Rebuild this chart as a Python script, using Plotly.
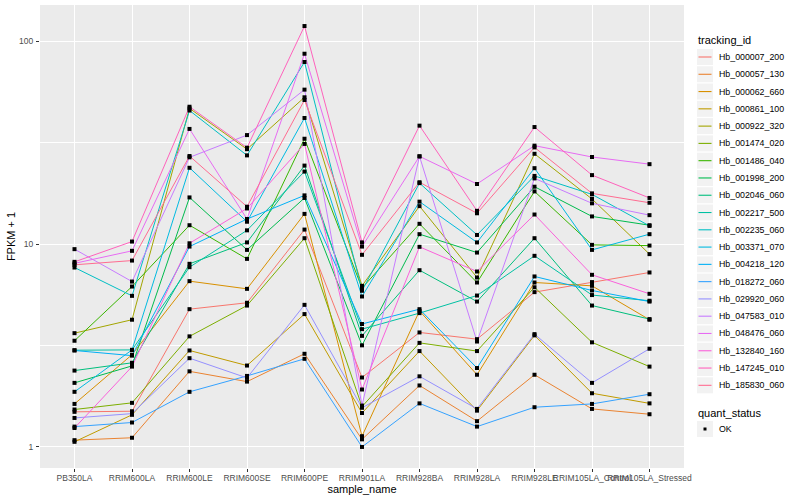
import plotly.graph_objects as go

samples = ["PB350LA", "RRIM600LA", "RRIM600LE", "RRIM600SE", "RRIM600PE", "RRIM901LA",
           "RRIM928BA", "RRIM928LA", "RRIM928LE", "RRIM105LA_Control", "RRIM105LA_Stressed"]

tracking_ids = ["Hb_000007_200", "Hb_000057_130", "Hb_000062_660", "Hb_000861_100", "Hb_000922_320",
                "Hb_001474_020", "Hb_001486_040", "Hb_001998_200", "Hb_002046_060", "Hb_002217_500",
                "Hb_002235_060", "Hb_003371_070", "Hb_004218_120", "Hb_018272_060", "Hb_029920_060",
                "Hb_047583_010", "Hb_048476_060", "Hb_132840_160", "Hb_147245_010", "Hb_185830_060"]

colors = ["#F8766D", "#EA8331", "#D89000", "#C09B00", "#A3A500", "#7CAE00", "#39B600", "#00BB4E",
          "#00BF7D", "#00C1A3", "#00BFC4", "#00BAE0", "#00B0F6", "#35A2FF", "#9590FF", "#C77CFF",
          "#E76BF3", "#FA62DB", "#FF62BC", "#FF6C91"]

# FPKM + 1 per sample, one list per tracking_id
hb_000007_200 = [1.49, 1.50, 4.78, 5.14, 11.8, 2.20, 3.67, 3.40, 5.80, 6.50, 7.25]
hb_000057_130 = [1.08, 1.11, 2.36, 2.10, 2.88, 1.09, 2.01, 1.34, 2.27, 1.54, 1.45]
hb_000062_660 = [1.63, 2.85, 6.57, 6.02, 14.1, 1.13, 4.69, 2.27, 6.47, 6.23, 4.24]
hb_000861_100 = [1.06, 1.44, 2.99, 2.52, 4.52, 1.47, 2.97, 1.51, 3.55, 1.84, 1.64]
hb_000922_320 = [3.64, 4.24, 46.7, 29.4, 53.0, 6.23, 15.4, 6.85, 27.9, 16.7, 8.93]
hb_001474_020 = [1.53, 1.65, 3.51, 4.98, 10.7, 1.58, 3.26, 2.97, 6.13, 3.28, 2.49]
hb_001486_040 = [3.34, 6.18, 12.4, 8.46, 33.1, 6.07, 12.6, 6.47, 18.2, 9.92, 9.84]
hb_001998_200 = [2.07, 2.51, 17.0, 9.37, 16.9, 3.17, 11.2, 9.09, 19.2, 13.7, 12.4]
hb_002046_060 = [2.38, 2.60, 8.00, 10.2, 24.4, 3.53, 7.44, 5.21, 10.7, 4.98, 4.27]
hb_002217_500 = [3.00, 3.01, 7.70, 11.7, 22.8, 3.81, 4.57, 5.58, 8.76, 5.61, 5.26]
hb_002235_060 = [7.67, 5.56, 45.6, 27.4, 79.1, 5.89, 20.0, 11.1, 21.7, 17.6, 12.3]
hb_003371_070 = [1.87, 3.01, 23.8, 12.9, 41.9, 5.52, 16.2, 10.2, 23.7, 9.37, 11.2]
hb_004218_120 = [2.99, 2.82, 9.73, 13.3, 17.4, 4.04, 4.78, 2.45, 6.93, 5.91, 5.21]
hb_018272_060 = [1.26, 1.32, 1.87, 2.24, 2.72, 1.00, 1.64, 1.26, 1.57, 1.63, 1.82]
hb_029920_060 = [1.39, 1.46, 2.74, 2.19, 5.02, 1.56, 2.23, 1.54, 3.60, 2.07, 3.05]
hb_047583_010 = [9.45, 6.54, 26.8, 34.5, 57.8, 1.60, 27.1, 3.31, 21.1, 15.9, 13.9]
hb_048476_060 = [8.04, 9.27, 37.0, 13.3, 86.9, 9.73, 27.1, 19.8, 30.6, 26.9, 24.8]
hb_132840_160 = [1.24, 2.49, 10.1, 15.0, 31.2, 1.92, 9.70, 7.33, 14.0, 7.06, 5.69]
hb_147245_010 = [8.18, 10.3, 47.6, 29.9, 119.0, 10.2, 38.4, 14.6, 37.8, 21.9, 16.9]
hb_185830_060 = [7.91, 8.30, 27.2, 15.3, 51.4, 8.86, 20.2, 14.2, 30.0, 17.8, 16.0]

series = [hb_000007_200, hb_000057_130, hb_000062_660, hb_000861_100, hb_000922_320,
          hb_001474_020, hb_001486_040, hb_001998_200, hb_002046_060, hb_002217_500,
          hb_002235_060, hb_003371_070, hb_004218_120, hb_018272_060, hb_029920_060,
          hb_047583_010, hb_048476_060, hb_132840_160, hb_147245_010, hb_185830_060]

quant_status = "OK"

FONT = "Liberation Sans"
W, H = 800, 500
ML, MR, MT, MB = 40, 116, 5, 32
PW, PH = W - ML - MR, H - MT - MB


def px(x):
    return (x - ML) / PW


def py(y):
    return (H - MB - y) / PH


fig = go.Figure()

for name, col, vals in zip(tracking_ids, colors, series):
    fig.add_trace(go.Scatter(
        x=samples, y=vals, mode="lines", name=name,
        line=dict(color=col, width=1), showlegend=False,
    ))

all_x = [s for vals in series for s in samples]
all_y = [v for vals in series for v in vals]
fig.add_trace(go.Scatter(
    x=all_x, y=all_y, mode="markers", name=quant_status,
    marker=dict(symbol="square", size=4, color="black", line=dict(width=0)),
    showlegend=False,
))

# ---- ggplot-style legends built from layout shapes/annotations ----
shapes = []
annotations = []
KEY_X0, KEY_X1 = 697, 713
TEXT_X = 717
FIRST_Y, STEP = 57.0, 17.28

annotations.append(dict(xref="paper", yref="paper", x=px(696), y=py(40.5), text="tracking_id",
                        showarrow=False, xanchor="left", yanchor="middle",
                        font=dict(size=11, color="black", family=FONT)))
for i, (name, col) in enumerate(zip(tracking_ids, colors)):
    cy = FIRST_Y + STEP * i
    shapes.append(dict(type="rect", xref="paper", yref="paper",
                       x0=px(KEY_X0), x1=px(KEY_X1), y0=py(cy - 8), y1=py(cy + 8),
                       fillcolor="#F2F2F2", line=dict(width=0), layer="below"))
    shapes.append(dict(type="line", xref="paper", yref="paper",
                       x0=px(KEY_X0 + 1.5), x1=px(KEY_X1 - 1.5), y0=py(cy), y1=py(cy),
                       line=dict(color=col, width=1.1)))
    annotations.append(dict(xref="paper", yref="paper", x=px(TEXT_X), y=py(cy), text=name,
                            showarrow=False, xanchor="left", yanchor="middle",
                            font=dict(size=8.8, color="black", family=FONT)))

annotations.append(dict(xref="paper", yref="paper", x=px(696), y=py(413), text="quant_status",
                        showarrow=False, xanchor="left", yanchor="middle",
                        font=dict(size=11, color="black", family=FONT)))
ok_y = 429
shapes.append(dict(type="rect", xref="paper", yref="paper",
                   x0=px(KEY_X0), x1=px(KEY_X1), y0=py(ok_y - 8), y1=py(ok_y + 8),
                   fillcolor="#F2F2F2", line=dict(width=0), layer="below"))
shapes.append(dict(type="rect", xref="paper", yref="paper",
                   x0=px(703.5), x1=px(706.5), y0=py(ok_y - 1.5), y1=py(ok_y + 1.5),
                   fillcolor="black", line=dict(width=0)))
annotations.append(dict(xref="paper", yref="paper", x=px(TEXT_X), y=py(ok_y), text=quant_status,
                        showarrow=False, xanchor="left", yanchor="middle",
                        font=dict(size=8.8, color="black", family=FONT)))

fig.update_layout(
    width=W, height=H,
    margin=dict(l=ML, r=MR, t=MT, b=MB, autoexpand=False),
    paper_bgcolor="white", plot_bgcolor="#EBEBEB",
    font=dict(family=FONT, size=9, color="black"),
    showlegend=False, hovermode=False,
    shapes=shapes, annotations=annotations,
)

fig.update_xaxes(
    type="category", range=[-0.6, len(samples) - 0.4],
    showgrid=True, gridcolor="white", gridwidth=1.1,
    ticks="outside", ticklen=3, tickcolor="#333333", tickangle=0,
    tickfont=dict(size=8.5, color="#4D4D4D"), ticklabelstandoff=-1,
    title=dict(text="sample_name", font=dict(size=11), standoff=0),
    zeroline=False, showline=False, automargin=False,
)

fig.update_yaxes(
    type="log", range=[-0.1038, 2.1793],
    tickvals=[1, 10, 100], ticktext=["1", "10", "100"],
    showgrid=True, gridcolor="white", gridwidth=1.1,
    minor=dict(tickvals=[3.1623, 31.623], showgrid=True, gridcolor="white", gridwidth=0.5, ticks=""),
    ticks="outside", ticklen=3, tickcolor="#333333",
    tickfont=dict(size=8.5, color="#4D4D4D"), ticklabelstandoff=1,
    title=dict(text="FPKM + 1", font=dict(size=11), standoff=1),
    zeroline=False, showline=False, automargin=False,
)

fig.write_html("out.html", config={"displayModeBar": False},
               post_script="document.body.style.margin='0px';")
